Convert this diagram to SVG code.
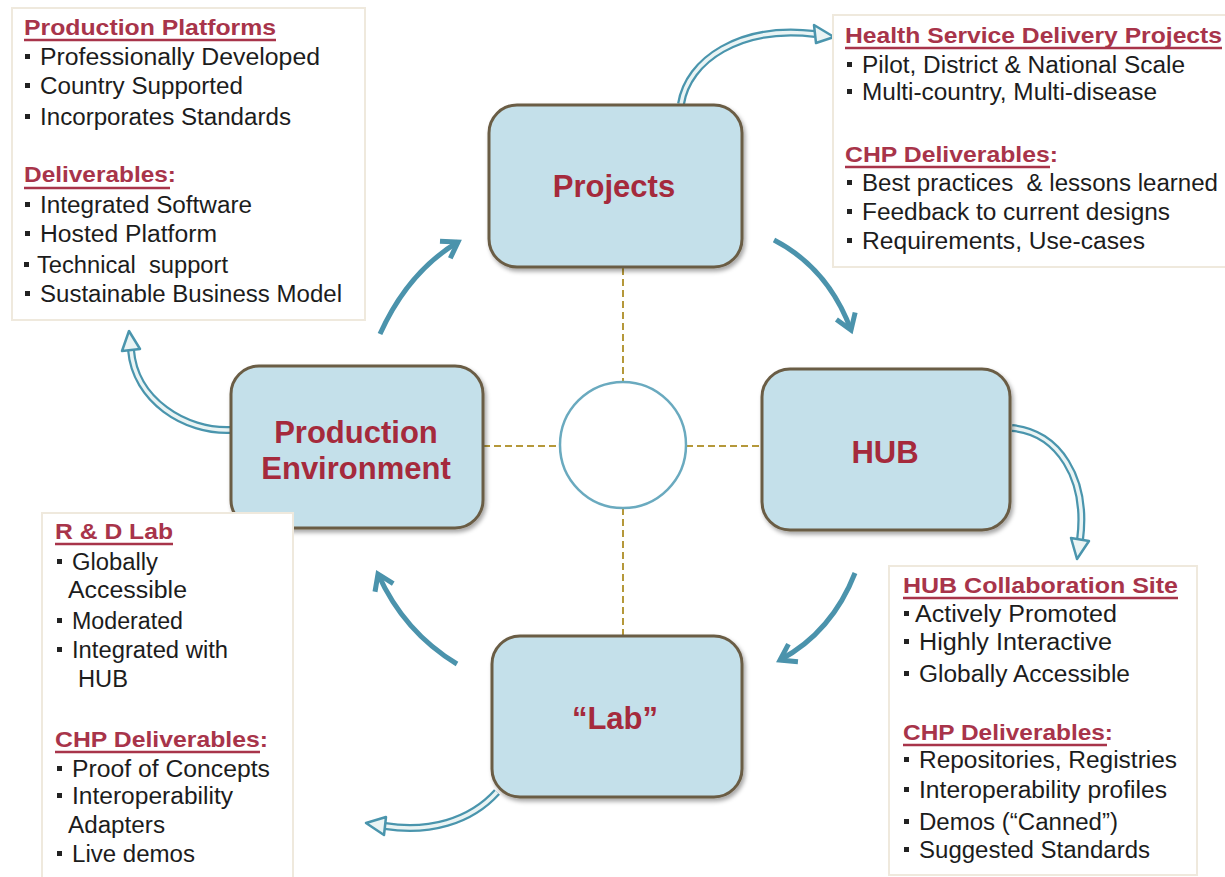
<svg xmlns="http://www.w3.org/2000/svg" width="1225" height="877" viewBox="0 0 1225 877">
<style>
.box{fill:#fff;stroke:#efe9dd;stroke-width:2}
.h{font-family:"Liberation Sans",Arial,sans-serif;font-weight:bold;font-size:22px;fill:#a8344a}
.t{font-family:"Liberation Sans",Arial,sans-serif;font-size:23px;fill:#1c1c1c}
.u{stroke:#a8344a;stroke-width:2.5}
.b{fill:#222}
.nr{fill:#c4e0ea;stroke:#6b5d45;stroke-width:3;filter:url(#sh)}
.nt{font-family:"Liberation Sans",Arial,sans-serif;font-weight:bold;font-size:31px;fill:#a52a3c;text-anchor:middle}
.dash{stroke:#b5983a;stroke-width:2;stroke-dasharray:7 4;fill:none}
.arr{fill:none;stroke:#4b93ac;stroke-width:5;marker-end:url(#ah)}
.bo{fill:none;stroke:#4a95ad;stroke-width:8}
.bi{fill:none;stroke:#eaf4f4;stroke-width:3.5}
.bh{fill:#eaf4f4;stroke:#4a95ad;stroke-width:2.5;stroke-linejoin:round}
</style>
<defs>
<filter id="sh" x="-10%" y="-10%" width="125%" height="130%">
<feDropShadow dx="2" dy="3" stdDeviation="2" flood-color="#000" flood-opacity="0.35"/>
</filter>
<marker id="ah" markerUnits="userSpaceOnUse" markerWidth="28" markerHeight="28" viewBox="0 0 28 28" refX="22" refY="14" orient="auto">
<path d="M7,4 L22,14 L7,24" fill="none" stroke="#4b93ac" stroke-width="5"/>
</marker>
</defs>
<rect width="1225" height="877" fill="#fff"/>

<g id="connectors">
<line class="dash" x1="623" y1="268" x2="623" y2="382"/>
<line class="dash" x1="623" y1="508" x2="623" y2="636"/>
<line class="dash" x1="483" y1="446" x2="560" y2="446"/>
<line class="dash" x1="686" y1="446" x2="762" y2="446"/>
<path class="arr" d="M380,334 Q408,272 458,242"/>
<path class="arr" d="M774,240 Q828,268 851,330"/>
<path class="arr" d="M855,573 Q832,632 780,660"/>
<path class="arr" d="M457,664 Q404,632 378,574"/>
<path class="bo" d="M681,104 C688,60 740,25 815,34"/>
<path class="bi" d="M681,104 C688,60 740,25 815,34"/>
<polygon class="bh" points="814,25 834,37 816,43"/>
<path class="bo" d="M1012,428 C1058,432 1088,478 1080,540"/>
<path class="bi" d="M1012,428 C1058,432 1088,478 1080,540"/>
<polygon class="bh" points="1089,541 1077,559 1071,538"/>
<path class="bo" d="M231,430 C185,432 135,400 131,350"/>
<path class="bi" d="M231,430 C185,432 135,400 131,350"/>
<polygon class="bh" points="140,349 129,331 122,351"/>
<path class="bo" d="M497,792 C470,822 428,833 385,826"/>
<path class="bi" d="M497,792 C470,822 428,833 385,826"/>
<polygon class="bh" points="386,817 366,823 384,835"/>
</g>

<g id="center">
<circle cx="623" cy="445" r="63" fill="#fff" stroke="#6aaabf" stroke-width="2.5"/>
</g>

<g id="projects">
<rect class="nr" x="489" y="105" width="253" height="162" rx="28"/>
<text class="nt" x="614" y="197">Projects</text>
</g>
<g id="hub">
<rect class="nr" x="762" y="369" width="248" height="161" rx="28"/>
<text class="nt" x="885" y="463">HUB</text>
</g>
<g id="production">
<rect class="nr" x="231" y="366" width="252" height="162" rx="28"/>
<text class="nt" x="356" y="443">Production</text>
<text class="nt" x="356" y="479">Environment</text>
</g>
<g id="lab">
<rect class="nr" x="492" y="636" width="250" height="161" rx="28"/>
<text class="nt" x="615" y="729">“Lab”</text>
</g>

<g id="box-production-platforms">
<rect class="box" x="12" y="8" width="353" height="312"/>
<text class="h" x="24" y="35" textLength="252" lengthAdjust="spacingAndGlyphs">Production Platforms</text>
<line class="u" x1="24" y1="40" x2="276" y2="40"/>
<rect class="b" x="25" y="54" width="5" height="5"/><text class="t" x="40" y="65" textLength="280" lengthAdjust="spacingAndGlyphs">Professionally Developed</text>
<rect class="b" x="25" y="83" width="5" height="5"/><text class="t" x="40" y="94" textLength="203" lengthAdjust="spacingAndGlyphs">Country Supported</text>
<rect class="b" x="25" y="114" width="5" height="5"/><text class="t" x="40" y="125" textLength="251" lengthAdjust="spacingAndGlyphs">Incorporates Standards</text>
<text class="h" x="24" y="182" textLength="152" lengthAdjust="spacingAndGlyphs">Deliverables:</text>
<line class="u" x1="24" y1="188" x2="170" y2="188"/>
<rect class="b" x="25" y="202" width="5" height="5"/><text class="t" x="40" y="213" textLength="212" lengthAdjust="spacingAndGlyphs">Integrated Software</text>
<rect class="b" x="25" y="231" width="5" height="5"/><text class="t" x="40" y="242" textLength="177" lengthAdjust="spacingAndGlyphs">Hosted Platform</text>
<rect class="b" x="24" y="262" width="5" height="5"/><text class="t" x="37" y="273" textLength="191" lengthAdjust="spacingAndGlyphs">Technical &#160;support</text>
<rect class="b" x="25" y="291" width="5" height="5"/><text class="t" x="40" y="302" textLength="302" lengthAdjust="spacingAndGlyphs">Sustainable Business Model</text>
</g>

<g id="box-health-service">
<rect class="box" x="833" y="15" width="400" height="252"/>
<text class="h" x="845" y="43" textLength="377" lengthAdjust="spacingAndGlyphs">Health Service Delivery Projects</text>
<line class="u" x1="845" y1="48" x2="1222" y2="48"/>
<rect class="b" x="847" y="62" width="5" height="5"/><text class="t" x="862" y="73" textLength="323" lengthAdjust="spacingAndGlyphs">Pilot, District &amp; National Scale</text>
<rect class="b" x="847" y="89" width="5" height="5"/><text class="t" x="862" y="100" textLength="295" lengthAdjust="spacingAndGlyphs">Multi-country, Multi-disease</text>
<text class="h" x="845" y="162" textLength="213" lengthAdjust="spacingAndGlyphs">CHP Deliverables:</text>
<line class="u" x1="845" y1="167" x2="1050" y2="167"/>
<rect class="b" x="847" y="180" width="5" height="5"/><text class="t" x="862" y="191" textLength="356" lengthAdjust="spacingAndGlyphs">Best practices &#160;&amp; lessons learned</text>
<rect class="b" x="847" y="209" width="5" height="5"/><text class="t" x="862" y="220" textLength="308" lengthAdjust="spacingAndGlyphs">Feedback to current designs</text>
<rect class="b" x="847" y="238" width="5" height="5"/><text class="t" x="862" y="249" textLength="283" lengthAdjust="spacingAndGlyphs">Requirements, Use-cases</text>
</g>

<g id="box-rd-lab">
<rect class="box" x="42" y="513" width="251" height="370"/>
<text class="h" x="55" y="539" textLength="118" lengthAdjust="spacingAndGlyphs">R &amp; D Lab</text>
<line class="u" x1="55" y1="544" x2="173" y2="544"/>
<rect class="b" x="57" y="559" width="5" height="5"/><text class="t" x="72" y="570" textLength="86" lengthAdjust="spacingAndGlyphs">Globally</text>
<text class="t" x="68" y="598" textLength="119" lengthAdjust="spacingAndGlyphs">Accessible</text>
<rect class="b" x="57" y="618" width="5" height="5"/><text class="t" x="72" y="629" textLength="111" lengthAdjust="spacingAndGlyphs">Moderated</text>
<rect class="b" x="57" y="647" width="5" height="5"/><text class="t" x="72" y="658" textLength="156" lengthAdjust="spacingAndGlyphs">Integrated with</text>
<text class="t" x="78" y="687" textLength="50" lengthAdjust="spacingAndGlyphs">HUB</text>
<text class="h" x="55" y="747" textLength="213" lengthAdjust="spacingAndGlyphs">CHP Deliverables:</text>
<line class="u" x1="55" y1="752" x2="260" y2="752"/>
<rect class="b" x="57" y="766" width="5" height="5"/><text class="t" x="72" y="777" textLength="198" lengthAdjust="spacingAndGlyphs">Proof of Concepts</text>
<rect class="b" x="57" y="793" width="5" height="5"/><text class="t" x="72" y="804" textLength="161" lengthAdjust="spacingAndGlyphs">Interoperability</text>
<text class="t" x="68" y="833" textLength="97" lengthAdjust="spacingAndGlyphs">Adapters</text>
<rect class="b" x="57" y="851" width="5" height="5"/><text class="t" x="72" y="862" textLength="123" lengthAdjust="spacingAndGlyphs">Live demos</text>
</g>

<g id="box-hub-collab">
<rect class="box" x="889" y="566" width="308" height="309"/>
<text class="h" x="903" y="593" textLength="275" lengthAdjust="spacingAndGlyphs">HUB Collaboration Site</text>
<line class="u" x1="903" y1="598" x2="1178" y2="598"/>
<rect class="b" x="904" y="611" width="5" height="5"/><text class="t" x="915" y="622" textLength="202" lengthAdjust="spacingAndGlyphs">Actively Promoted</text>
<rect class="b" x="904" y="639" width="5" height="5"/><text class="t" x="919" y="650" textLength="193" lengthAdjust="spacingAndGlyphs">Highly Interactive</text>
<rect class="b" x="904" y="671" width="5" height="5"/><text class="t" x="919" y="682" textLength="211" lengthAdjust="spacingAndGlyphs">Globally Accessible</text>
<text class="h" x="903" y="740" textLength="210" lengthAdjust="spacingAndGlyphs">CHP Deliverables:</text>
<line class="u" x1="903" y1="745" x2="1107" y2="745"/>
<rect class="b" x="904" y="757" width="5" height="5"/><text class="t" x="919" y="768" textLength="258" lengthAdjust="spacingAndGlyphs">Repositories, Registries</text>
<rect class="b" x="904" y="787" width="5" height="5"/><text class="t" x="919" y="798" textLength="248" lengthAdjust="spacingAndGlyphs">Interoperability profiles</text>
<rect class="b" x="904" y="819" width="5" height="5"/><text class="t" x="919" y="830" textLength="199" lengthAdjust="spacingAndGlyphs">Demos (“Canned”)</text>
<rect class="b" x="904" y="847" width="5" height="5"/><text class="t" x="919" y="858" textLength="231" lengthAdjust="spacingAndGlyphs">Suggested Standards</text>
</g>
</svg>
